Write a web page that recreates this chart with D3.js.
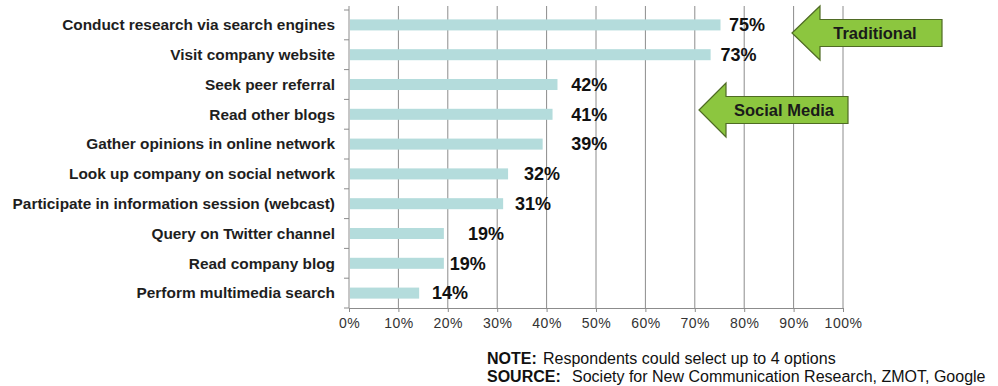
<!DOCTYPE html>
<html>
<head>
<meta charset="utf-8">
<script src="https://cdn.jsdelivr.net/npm/d3@7"></script>
<style>
  body { margin: 0; background: #fff; }
  svg { display: block; font-family: "Liberation Sans", Arial, sans-serif; }
</style>
</head>
<body>
<div id="chart"></div>
<script>
// data
const categories = [
  'Conduct research via search engines',
  'Visit company website',
  'Seek peer referral',
  'Read other blogs',
  'Gather opinions in online network',
  'Look up company on social network',
  'Participate in information session (webcast)',
  'Query on Twitter channel',
  'Read company blog',
  'Perform multimedia search'
];
const values = [75, 73, 42, 41, 39, 32, 31, 19, 19, 14];
// where each value label starts, in axis units (hand placed in the original)
const labelAt = [76.9, 75.2, 45, 45, 45, 35.4, 33.6, 24.1, 20.4, 16.8];
const xTicks = [0, 10, 20, 30, 40, 50, 60, 70, 80, 90, 100];

const W = 998, H = 386;
const margin = { top: 10, left: 349, right: 155, bottom: 78 };

const svg = d3.select('#chart').append('svg')
  .attr('width', W)
  .attr('height', H);

const x = d3.scaleLinear()
  .domain([0, 100])
  .range([margin.left, W - margin.right]);

const y = d3.scaleBand()
  .domain(categories)
  .range([margin.top, H - margin.bottom])
  .paddingInner(0.63)
  .paddingOuter(0.315);

const bottom = H - margin.bottom;

//gridlines
svg.append('g')
  .selectAll('line')
  .data(xTicks.slice(1))
  .enter()
  .append('line')
  .attr('x1', d => x(d)).attr('x2', d => x(d))
  .attr('y1', margin.top - 4).attr('y2', bottom)
  .attr('stroke', '#8c8c8c')
  .attr('stroke-width', 1);

//x-axis
const xAxis = svg.append('g')
  .attr('transform', `translate(0, ${bottom})`)
  .call(d3.axisBottom(x).tickValues(xTicks).tickSize(4).tickSizeOuter(0).tickFormat(d => d + '%'));
xAxis.select('.domain').attr('stroke', '#8c8c8c');
xAxis.selectAll('.tick line').attr('stroke', '#8c8c8c');
xAxis.selectAll('text')
  .attr('dy', '0.95em')
  .attr('fill', '#333')
  .attr('font-size', '14px')
  .attr('letter-spacing', '0.5px')
  .attr('font-family', '"Liberation Sans", Arial, sans-serif');

//y-axis: line plus ticks between the categories
const yAxis = svg.append('g');
yAxis.append('line')
  .attr('x1', x(0)).attr('x2', x(0))
  .attr('y1', margin.top - 4).attr('y2', bottom)
  .attr('stroke', '#8c8c8c');
yAxis.selectAll('line.tk')
  .data(d3.range(categories.length + 1))
  .enter()
  .append('line')
  .attr('class', 'tk')
  .attr('x1', x(0) - 5).attr('x2', x(0))
  .attr('y1', i => margin.top + i * y.step())
  .attr('y2', i => margin.top + i * y.step())
  .attr('stroke', '#8c8c8c');

yAxis.selectAll('text')
  .data(categories)
  .enter()
  .append('text')
  .attr('x', x(0) - 14)
  .attr('y', d => y(d) + y.bandwidth() / 2)
  .attr('dy', '0.35em')
  .attr('text-anchor', 'end')
  .attr('font-size', '15.4px')
  .attr('font-weight', 'bold')
  .attr('fill', '#1e1e1e')
  .text(d => d);

//bars
svg.append('g')
  .selectAll('rect')
  .data(values)
  .enter()
  .append('rect')
  .attr('x', x(0) + 1)
  .attr('y', (d, i) => y(categories[i]))
  .attr('width', d => x(d) - x(0))
  .attr('height', y.bandwidth())
  .attr('fill', '#b4dcdc');

//value labels
svg.append('g')
  .selectAll('text')
  .data(values)
  .enter()
  .append('text')
  .attr('x', (d, i) => x(labelAt[i]))
  .attr('y', (d, i) => y(categories[i]) + y.bandwidth() / 2)
  .attr('dy', '0.35em')
  .attr('font-size', '18px')
  .attr('font-weight', 'bold')
  .attr('fill', '#111')
  .text(d => d + '%');

//arrows
function arrow(tipX, tipY, headLen, headHalf, shaftHalf, endX, textX, label) {
  const g = svg.append('g');
  const pts = [
    [tipX, tipY],
    [tipX + headLen, tipY - headHalf],
    [tipX + headLen, tipY - shaftHalf],
    [endX, tipY - shaftHalf],
    [endX, tipY + shaftHalf],
    [tipX + headLen, tipY + shaftHalf],
    [tipX + headLen, tipY + headHalf]
  ];
  g.append('path')
    .attr('d', d3.line()(pts) + 'Z')
    .attr('fill', '#8cc63f')
    .attr('stroke', '#4f6b24')
    .attr('stroke-width', 1.2);
  g.append('text')
    .attr('x', textX)
    .attr('y', tipY)
    .attr('dy', '0.36em')
    .attr('text-anchor', 'middle')
    .attr('font-size', '16.5px')
    .attr('font-weight', 'bold')
    .attr('fill', '#1a1a1a')
    .text(label);
}
arrow(792, 33, 28, 27, 13.5, 942, 875, 'Traditional');
arrow(699, 110, 27, 27, 13.5, 848, 784, 'Social Media');

//note and source
const note = svg.append('text')
  .attr('x', 487).attr('y', 364)
  .attr('font-size', '16px')
  .attr('fill', '#111');
note.append('tspan').attr('font-weight', 'bold').text('NOTE:');
note.append('tspan').attr('x', 543).text('Respondents could select up to 4 options');

const src = svg.append('text')
  .attr('x', 487).attr('y', 382)
  .attr('font-size', '16px')
  .attr('fill', '#111');
src.append('tspan').attr('font-weight', 'bold').text('SOURCE:');
src.append('tspan').attr('x', 572).text('Society for New Communication Research, ZMOT, Google');
</script>
</body>
</html>
